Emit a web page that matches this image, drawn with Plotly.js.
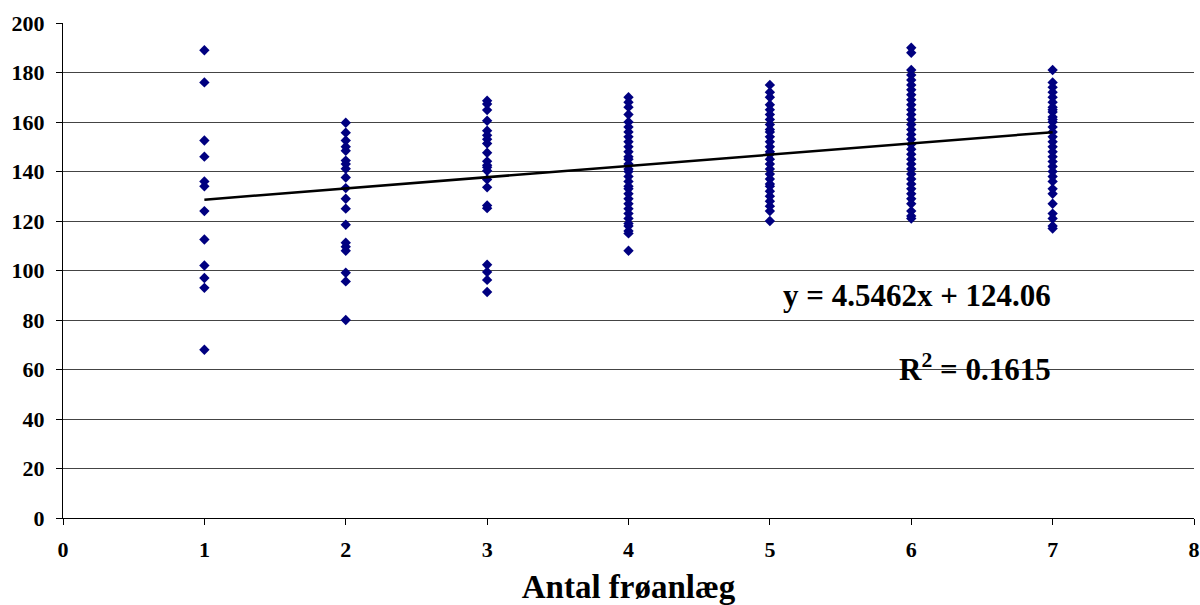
<!DOCTYPE html>
<html>
<head>
<meta charset="utf-8">
<script src="https://cdn.plot.ly/plotly-3.0.1.min.js"></script>
<style>html,body{margin:0;padding:0;background:#fff;}#chart{width:1200px;height:605px;}</style>
</head>
<body>
<div id="chart"></div>
<script>
// Data (y values grouped by x = number of seed plants)
const col1 = [189, 176, 152.5, 146, 136, 134, 124, 112.5, 102, 97, 93, 68];
const col2 = [159.7, 155.7, 152.5, 150, 148.4, 144.4, 143, 141.1, 137.6, 133.3, 129, 125, 118.5, 111.2, 109.6, 108, 99.1, 95.6, 80];
const col3 = [168.6, 167.3, 164.8, 160.5, 156.5, 154.6, 153, 151.3, 147.6, 144.1, 142.5, 141.7, 140.3, 136.8, 133.6, 126.3, 125.2, 102.3, 99.4, 96.2, 91.3];
const col4 = [170, 168, 166, 163, 160, 158, 156, 154, 152, 150, 148, 146, 145, 143, 141, 140, 138, 136, 134, 133, 131, 129, 127, 125, 123, 121, 119, 118, 116, 115, 108];
const col5 = [175, 172, 170, 167, 165, 163, 161, 159, 157, 156, 154, 152, 150, 148, 147, 145, 143, 141, 139, 137, 135, 134, 132, 130, 128, 126, 124, 120];
const col6 = [190, 188, 181, 179, 177, 175, 173, 171, 169, 167, 165, 163, 161, 159, 157, 155, 153, 151, 149, 147, 145, 143, 141, 139, 137, 135, 133, 131, 129, 127, 124, 122, 121];
const col7 = [181, 176, 174, 172, 170, 168, 166, 165, 164, 162, 161, 160, 158, 156, 154, 152, 150, 148, 146, 144, 142, 140, 138, 136, 133, 131, 127, 123, 121, 118, 117];
const columns = [col1, col2, col3, col4, col5, col6, col7];
const xCategories = [1, 2, 3, 4, 5, 6, 7];

// Trend line from the reported equation
const slope = 4.5462;
const intercept = 124.06;
const rSquared = '0.1615';
const trendX = [1, 7];

const xTicks = [0, 1, 2, 3, 4, 5, 6, 7, 8];
const yTicks = [0, 20, 40, 60, 80, 100, 120, 140, 160, 180, 200];

const xs = [], ys = [];
columns.forEach((c, i) => c.forEach(v => { xs.push(xCategories[i]); ys.push(v); }));

const fam = '"Liberation Serif", "Times New Roman", serif';

const data = [
  {x: xs, y: ys, type: 'scatter', mode: 'markers',
   marker: {symbol: 'diamond', size: 8, color: '#000080', line: {width: 0}}, hoverinfo: 'x+y'},
  {x: trendX, y: trendX.map(x => slope * x + intercept), type: 'scatter', mode: 'lines',
   line: {color: '#000', width: 2.5}}
];

const layout = {
  width: 1200, height: 605,
  margin: {l: 63, r: 6, t: 23, b: 87},
  paper_bgcolor: '#fff', plot_bgcolor: '#fff',
  showlegend: false,
  font: {family: fam, color: '#000'},
  xaxis: {
    range: [0, 8], tickvals: xTicks, ticktext: xTicks.map(v => '<b>' + v + '</b>'),
    showgrid: false, zeroline: false,
    showline: true, linecolor: '#000', linewidth: 1,
    ticks: 'outside', ticklen: 6, tickcolor: '#000',
    ticklabelstandoff: 6,
    tickfont: {family: fam, size: 22, weight: 'bold', color: '#000'},
    title: {text: '<b>Antal frøanlæg</b>', font: {family: fam, size: 33, color: '#000'}, standoff: 14}
  },
  yaxis: {
    range: [0, 200], tickvals: yTicks, ticktext: yTicks.map(v => '<b>' + v + '</b>'),
    showgrid: true, gridcolor: '#444', gridwidth: 1,
    zeroline: false,
    showline: true, linecolor: '#000', linewidth: 1,
    ticks: 'outside', ticklen: 6, tickcolor: '#000',
    ticklabelstandoff: 7,
    tickfont: {family: fam, size: 22, weight: 'bold', color: '#000'}
  },
  annotations: [
    {x: 7, y: 90, xref: 'x', yref: 'y', xanchor: 'right', yanchor: 'middle', showarrow: false,
     text: '<b>y = ' + slope.toFixed(4) + 'x + ' + intercept.toFixed(2) + '</b>',
     font: {family: fam, size: 31, color: '#000'}},
    {x: 7, y: 61, xref: 'x', yref: 'y', xanchor: 'right', yanchor: 'middle', showarrow: false,
     text: '<b>R<sup>2</sup> = ' + rSquared + '</b>',
     font: {family: fam, size: 31, color: '#000'}}
  ]
};

Plotly.newPlot('chart', data, layout, {displayModeBar: false, staticPlot: true});
</script>
</body>
</html>
